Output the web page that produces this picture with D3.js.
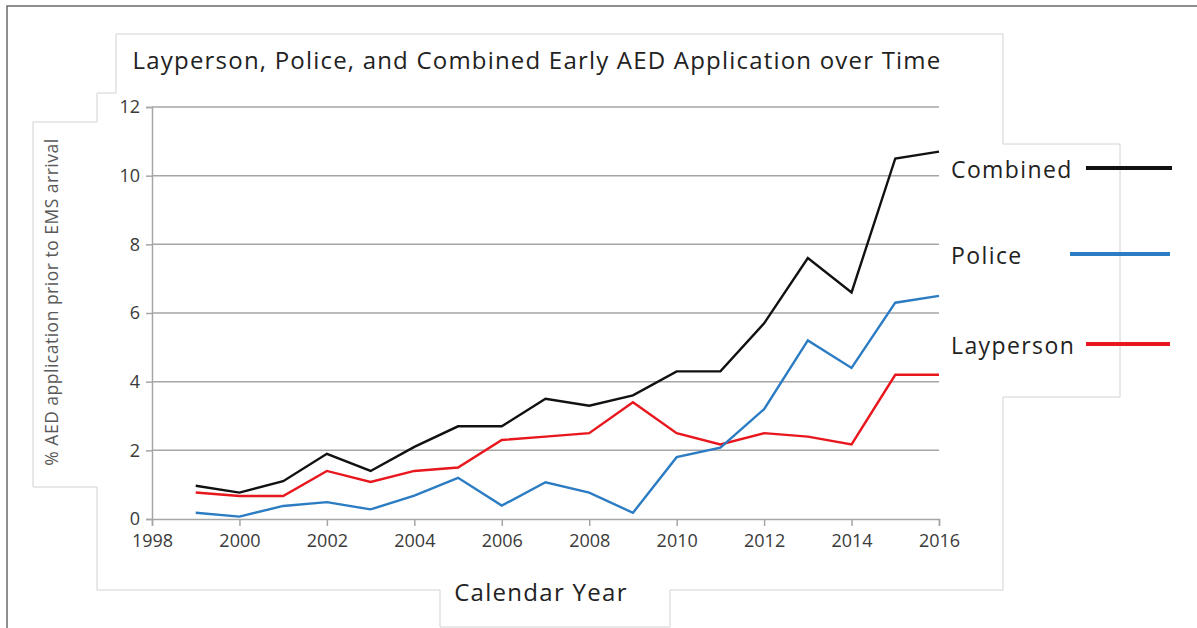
<!DOCTYPE html>
<html>
<head>
<meta charset="utf-8">
<script src="https://cdn.jsdelivr.net/npm/d3@7"></script>
<style>
  html, body { margin: 0; padding: 0; background: #fff; }
  svg { display: block; font-family: "Open Sans", "Noto Sans", sans-serif; }
</style>
</head>
<body>
<svg id="chart" width="1197" height="628"></svg>
<script>
// Early AED application, % of cases before EMS arrival
const years = [1999, 2000, 2001, 2002, 2003, 2004, 2005, 2006, 2007, 2008,
               2009, 2010, 2011, 2012, 2013, 2014, 2015, 2016];
const combined  = [0.97, 0.77, 1.1, 1.9, 1.4, 2.1, 2.7, 2.7, 3.5, 3.3,
                   3.6, 4.3, 4.3, 5.7, 7.6, 6.6, 10.5, 10.7];
const police    = [0.18, 0.07, 0.38, 0.49, 0.28, 0.68, 1.2, 0.39, 1.07, 0.77,
                   0.18, 1.8, 2.08, 3.2, 5.2, 4.4, 6.3, 6.5];
const layperson = [0.77, 0.67, 0.67, 1.4, 1.08, 1.4, 1.5, 2.3, 2.4, 2.5,
                   3.4, 2.5, 2.17, 2.5, 2.4, 2.17, 4.2, 4.2];
const xTicks = [1998, 2000, 2002, 2004, 2006, 2008, 2010, 2012, 2014, 2016];
const yTicks = [0, 2, 4, 6, 8, 10, 12];

const seriesNames  = ["Combined", "Police", "Layperson"];
const seriesColors = ["#111111", "#2c7cc3", "#e8161d"];
const seriesValues = [combined, police, layperson];

const svg = d3.select("#chart");

// outer frame (top and left edges)
svg.append("path")
  .attr("d", "M7,628 V6 H1197")
  .attr("fill", "none")
  .attr("stroke", "#6a6a6a")
  .attr("stroke-width", 1.5);

// outline of the title, plot, axis-title and legend panels
svg.append("path")
  .attr("d", "M116,34 H1003 V144 H1120 V397 H1003 V590 H670 V627 H440 V590 H97 V487 H33 V122 H97 V93 H116 Z")
  .attr("fill", "#fff")
  .attr("stroke", "#d2d2d2")
  .attr("stroke-width", 1);

const x = d3.scaleLinear().domain([1998, 2016]).range([152, 939]);
const y = d3.scaleLinear().domain([0, 12]).range([519, 107]);

// horizontal gridlines
svg.append("g")
  .selectAll("line")
  .data(yTicks.filter(d => d > 0))
  .join("line")
  .attr("x1", x(1998)).attr("x2", x(2016))
  .attr("y1", d => y(d)).attr("y2", d => y(d))
  .attr("stroke", "#a6a6a6")
  .attr("stroke-width", 1.5);

// y axis
const yAxis = svg.append("g")
  .attr("transform", `translate(${x(1998)},0)`)
  .call(d3.axisLeft(y).tickValues(yTicks).tickSize(6).tickPadding(6).tickFormat(d3.format("d")));
yAxis.select(".domain").attr("stroke", "#a6a6a6").attr("stroke-width", 1.5);
yAxis.selectAll(".tick line").attr("stroke", "#a6a6a6").attr("stroke-width", 1.5);
yAxis.selectAll(".tick text")
  .attr("fill", "#3a3a3a")
  .style("font-size", "18px")
  .style("font-family", "'Open Sans', sans-serif");

// x axis
const xAxis = svg.append("g")
  .attr("transform", `translate(0,${y(0)})`)
  .call(d3.axisBottom(x).tickValues(xTicks).tickSize(7).tickPadding(8).tickFormat(d3.format("d")));
xAxis.select(".domain").attr("stroke", "#a6a6a6").attr("stroke-width", 1.5);
xAxis.selectAll(".tick line").attr("stroke", "#a6a6a6").attr("stroke-width", 1.5);
xAxis.selectAll(".tick text")
  .attr("fill", "#3a3a3a")
  .style("font-size", "18px")
  .style("font-family", "'Open Sans', sans-serif");

// series lines
const line = d3.line()
  .x((d, i) => x(years[i]))
  .y(d => y(d));

svg.append("g")
  .selectAll("path")
  .data(seriesValues.map((v, i) => ({ v, c: seriesColors[i] })).reverse())
  .join("path")
  .attr("d", d => line(d.v))
  .attr("fill", "none")
  .attr("stroke", d => d.c)
  .attr("stroke-width", 2.4)
  .attr("stroke-linejoin", "miter");

// title
svg.append("text")
  .attr("x", 537).attr("y", 69)
  .attr("text-anchor", "middle")
  .attr("fill", "#222")
  .style("font-size", "24px")
  .style("letter-spacing", "1.2px")
  .text("Layperson, Police, and Combined Early AED Application over Time");

// axis titles
svg.append("text")
  .attr("transform", "translate(58,302) rotate(-90)")
  .attr("text-anchor", "middle")
  .attr("fill", "#595959")
  .style("font-size", "17.5px")
  .style("letter-spacing", "0.5px")
  .text("% AED application prior to EMS arrival");

svg.append("text")
  .attr("x", 541).attr("y", 601)
  .attr("text-anchor", "middle")
  .attr("fill", "#222")
  .style("font-size", "24px")
  .style("letter-spacing", "1.3px")
  .text("Calendar Year");

// legend
const legendRows = [
  { y: 170, x1: 1086, x2: 1172 },
  { y: 256, x1: 1070, x2: 1170 },
  { y: 346, x1: 1086, x2: 1170 }
];
const legend = svg.append("g")
  .selectAll("g")
  .data(seriesNames.map((n, i) => ({ n, c: seriesColors[i], r: legendRows[i] })))
  .join("g");
legend.append("text")
  .attr("x", 951).attr("y", d => d.r.y + 8)
  .attr("fill", "#222")
  .style("font-size", "23px")
  .style("letter-spacing", "1.4px")
  .text(d => d.n);
legend.append("line")
  .attr("x1", d => d.r.x1).attr("x2", d => d.r.x2)
  .attr("y1", d => d.r.y - 2).attr("y2", d => d.r.y - 2)
  .attr("stroke", d => d.c)
  .attr("stroke-width", 4);
</script>
</body>
</html>
